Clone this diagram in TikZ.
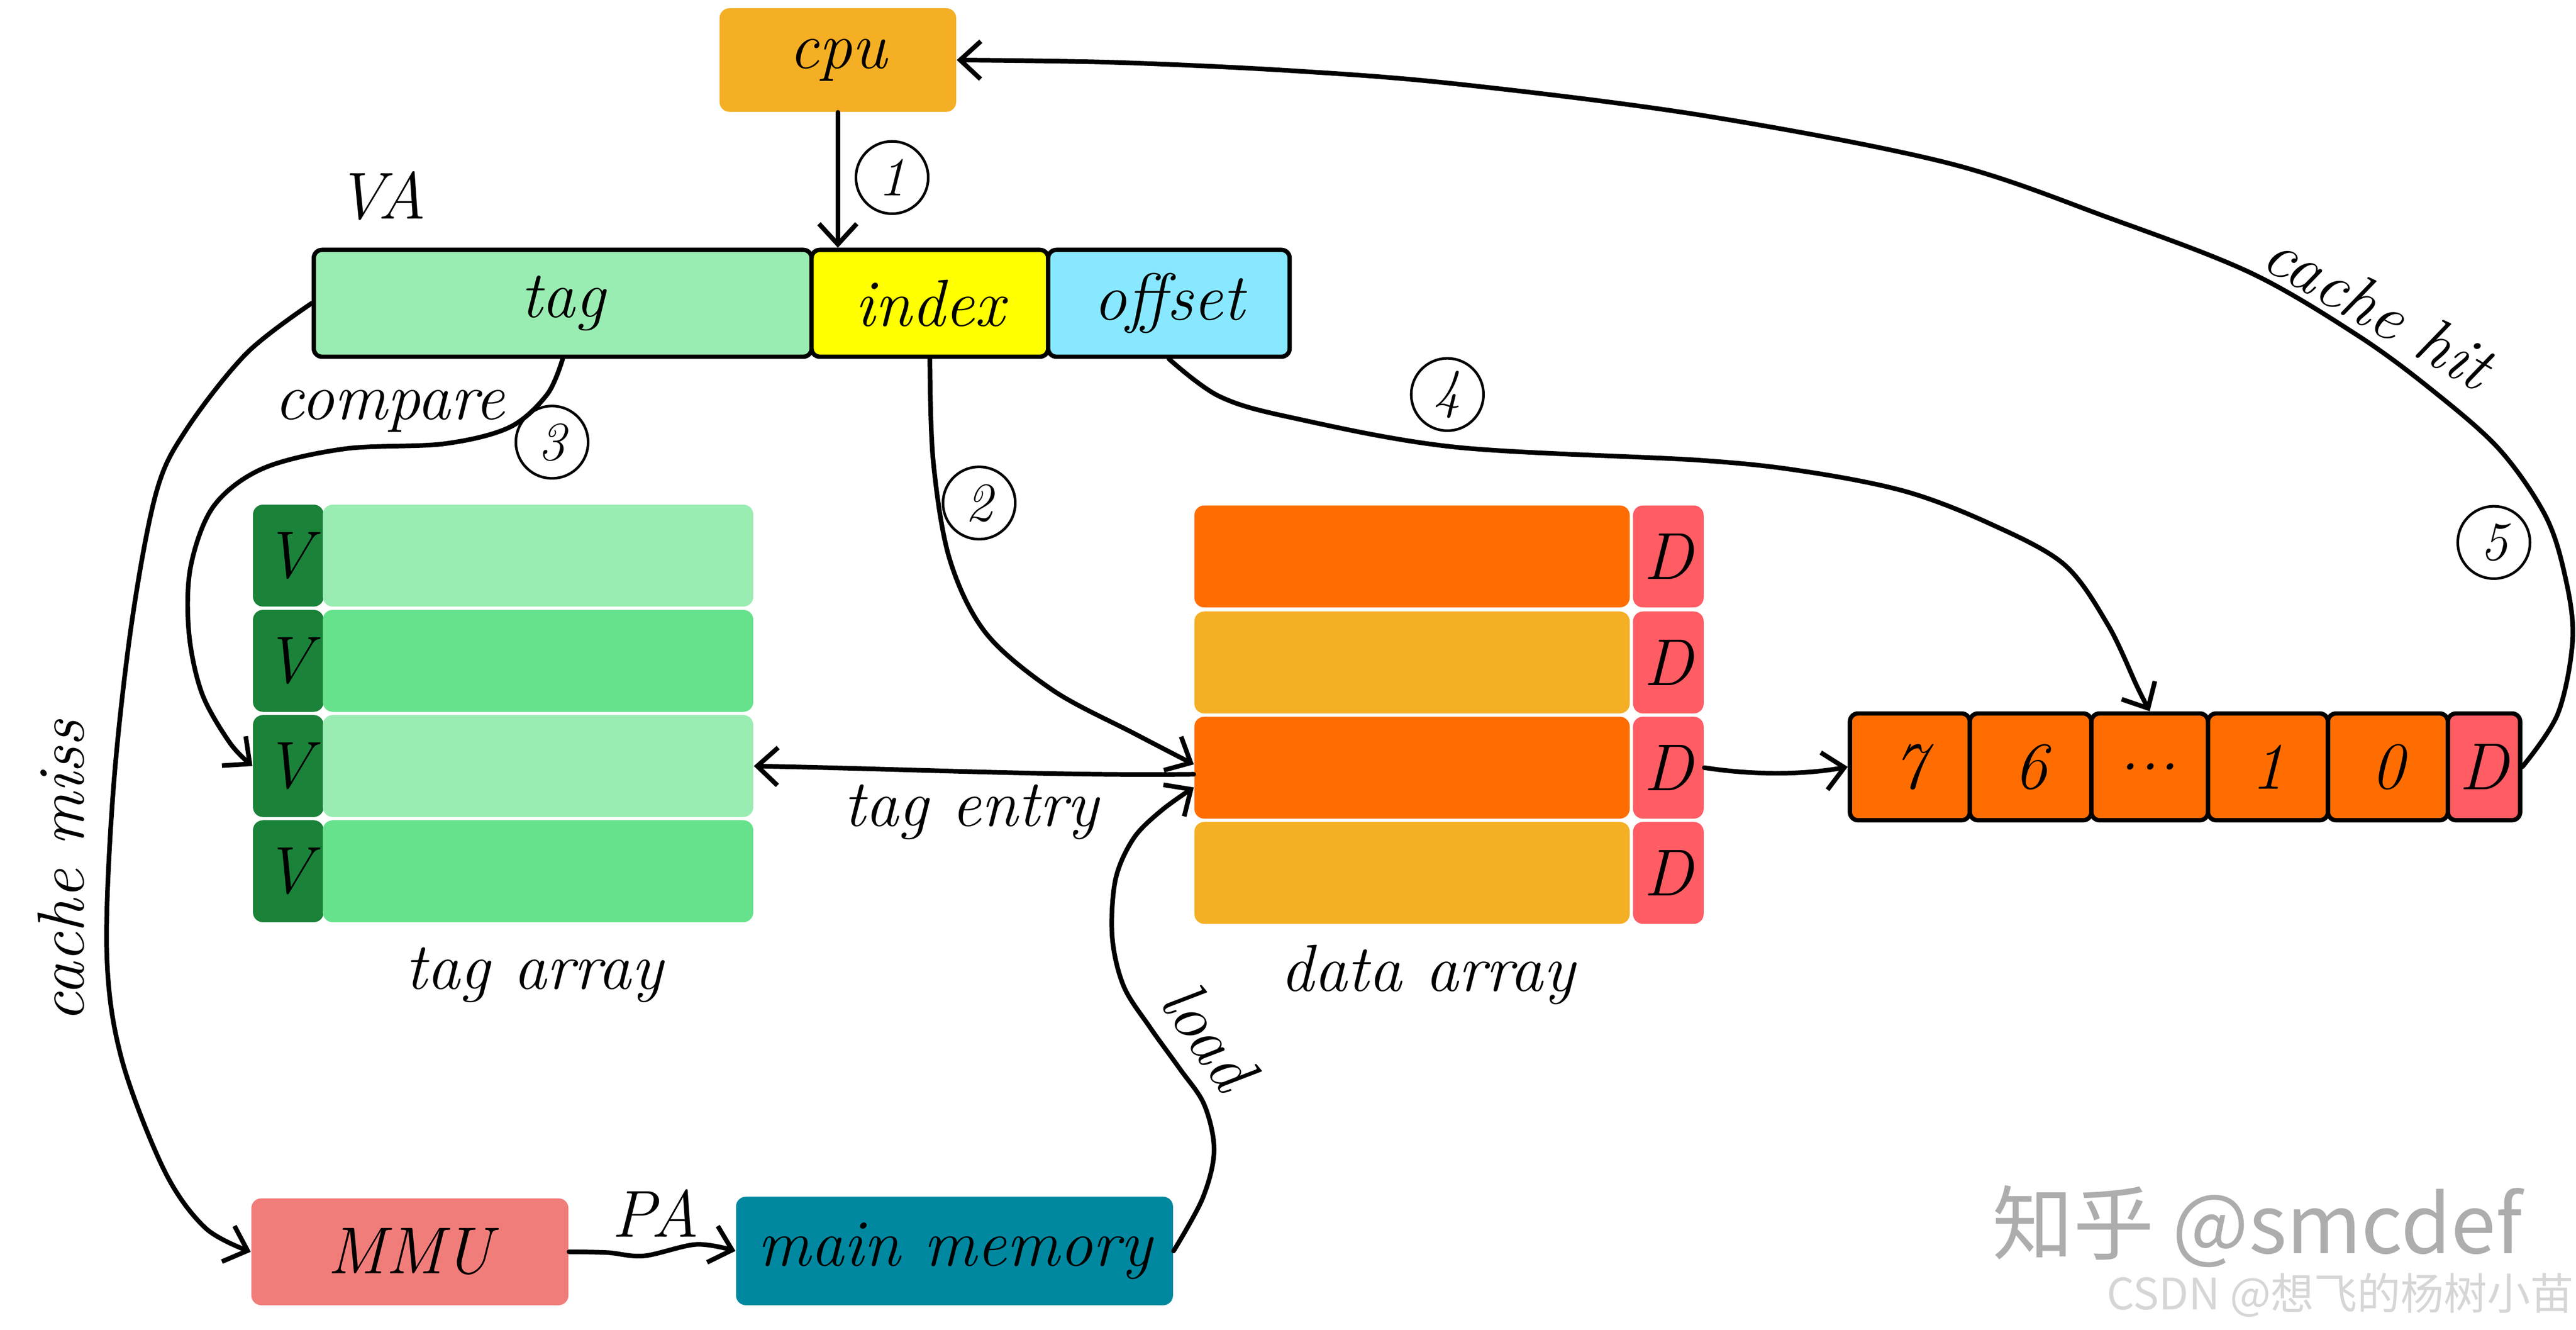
\documentclass[tikz,border=0pt]{standalone}
\usepackage{fontspec}
\newfontfamily\cjkfont{Noto Sans CJK SC}
\usetikzlibrary{arrows.meta}
\newcommand{\mydots}{...}
\definecolor{cpuor}{HTML}{F5AF24}
\definecolor{tagl}{HTML}{9AEDB2}
\definecolor{tagm}{HTML}{66E28C}
\definecolor{vdark}{HTML}{1A8239}
\definecolor{idxy}{HTML}{FFFF00}
\definecolor{offc}{HTML}{88E8FF}
\definecolor{dor}{HTML}{FF6D00}
\definecolor{dam}{HTML}{F5AF24}
\definecolor{dpink}{HTML}{FF5C64}
\definecolor{mmuc}{HTML}{F07D7A}
\definecolor{memc}{HTML}{0088A0}
\tikzset{
  sz/.style n args={2}{minimum width=#1*0.02cm, minimum height=#2*0.02cm},
  fillbox/.style={inner sep=0pt, rounded corners=0.12cm},
  linebox/.style={inner sep=0pt, draw, line width=1.5pt, rounded corners=0.1cm},
  numc/.style={circle, draw, line width=0.9pt, minimum size=0.88cm, inner sep=0pt,
    font=\fontsize{19}{22}\selectfont\itshape},
  conn/.style={line width=1.6pt, line cap=round, line join=round,
    -{Straight Barb[length=0.25cm,width=0.46cm]}}
}
\begin{document}
\begin{tikzpicture}[x=0.02cm,y=-0.02cm,
  font=\fontsize{23}{27}\selectfont\itshape]
\path[use as bounding box] (0,0) rectangle (1568,808.9);

% ---------- boxes ----------
\node[fillbox, fill=cpuor, sz={144}{63}] (cpu) at (510,36.5) {cpu};
\node[linebox, fill=tagl, sz={303}{65}] (tag) at (342.5,184.5) {tag};
\node[linebox, fill=idxy, sz={144}{65}] (index) at (566,184.5) {index};
\node[linebox, fill=offc, sz={147}{65}] (offset) at (711.5,184.5) {offset};

\foreach \i/\yy/\cc in {1/338/tagl, 2/402/tagm, 3/466/tagl, 4/530/tagm} {
  \node[fillbox, fill=vdark, sz={43}{62}] (v\i) at (175.5,\yy) {V};
  \node[fillbox, fill=\cc, sz={262}{62}] (t\i) at (327.5,\yy) {};
}
\foreach \i/\yy/\cc in {1/338.5/dor, 2/403/dam, 3/467/dor, 4/531/dam} {
  \node[fillbox, fill=\cc, sz={265}{62}] (d\i) at (859.5,\yy) {};
  \node[fillbox, fill=dpink, sz={43}{62}] (dd\i) at (1015.5,\yy) {D};
}

\foreach \nm/\xa/\xb/\lab/\cc in {c7/1126/1199/7/dor, c6/1199/1273/6/dor,
    cdots/1273/1344/\mydots/dor, c1/1344/1417/1/dor, c0/1417/1490/0/dor, cD/1490/1534/D/dpink} {
  \node[linebox, fill=\cc, minimum width={(\xb-\xa)*0.02cm}, minimum height=1.3cm]
    (\nm) at ({(\xa+\xb)/2},466.5) {\lab};
}

\node[fillbox, fill=mmuc, sz={193}{65}] (mmu) at (249.5,761.5) {MMU};
\node[fillbox, fill=memc, sz={266}{66}] (mem) at (581,761) {main memory};

% ---------- labels ----------
\node (va) at (232,119) {VA};
\node (lta) at (325,593) {tag array};
\node (lda) at (869,593) {data array};
\node[rotate=90] (lmiss) at (37,530) {cache miss};
\node (lentry) at (591,494) {tag entry};
\node (lcmp) at (237,250) {compare};
\node[rotate=-30] (lhit) at (1448,188) {cache hit};
\node[rotate=-55] (lload) at (736,630) {load};
\node (lpa) at (399,738) {PA};

\node[numc] (n1) at (543,108) {1};
\node[numc] (n2) at (596,306) {2};
\node[numc] (n3) at (336,269) {3};
\node[numc] (n4) at (881,240) {4};
\node[numc] (n5) at (1518,330) {5};

% ---------- connectors ----------
\draw[conn] (cpu.south) -- (cpu.south |- index.north);

\draw[conn] plot[smooth, tension=0.55] coordinates {(index.south) (568,280) (578,340)
  (600,385) (641,420) (690,446) ([yshift=0.04cm]d3.west)};

\draw[conn] plot[smooth, tension=0.55] coordinates {(tag.south) (333,240) (310,260)
  (270,270) (210,273) (160,285) (130,308) (116,345) (115,385) (123,422) (140,452) (v3.west)};

\draw[conn] plot[smooth, tension=0.55] coordinates {(tag.west) (150,215) (113,262)
  (95,300) (80,380) (69,480) (65,580) (74,644) (100,712) (125,747) (mmu.west)};

\draw[conn] plot[smooth, tension=0.55] coordinates {(offset.south) (742,241) (786,254)
  (886,272) (1035,280) (1100,287) (1160,299) (1210,318) (1256,343) (1283,380)
  (1301,418) (cdots.north)};

\draw[conn] plot[smooth, tension=0.55] coordinates {(cD.east) (1557,434) (1566,388)
  (1561,349) (1549,313) (1521,273) (1480,237) (1435,204) (1370,166) (1285,133)
  (1185,99) (1035,70) (886,51) (786,43) (680,38) (cpu.east)};

\draw[conn] ([yshift=-0.08cm]d3.west) .. controls (640,472) and (560,468) .. (t3.east);

\draw[conn] plot[smooth, tension=0.55] coordinates {(mem.east) (732,729) (739,700)
  (733,672) (718,650) (700,625) (684,600) (677,570) (679,535) (690,510) (707,493)
  ([yshift=-0.24cm]d3.west)};

\draw[conn] (dd3.east) .. controls (1070,472) and (1100,471) .. (c7.west);

\draw[conn] plot[smooth, tension=0.55] coordinates {(mmu.east) (370,762) (392,764)
  (424,757) (mem.west)};

% ---------- watermark ----------
\node[text=black!32, font=\cjkfont\fontsize{28}{30}\selectfont] (wm1) at (1374,746) {知乎 @smcdef};
\node[text=black!16, font=\cjkfont\fontsize{15}{17}\selectfont, anchor=west, inner sep=0pt]
  (wm2) at (1282,788) {CSDN @想飞的杨树小苗};
\end{tikzpicture}
\end{document}
